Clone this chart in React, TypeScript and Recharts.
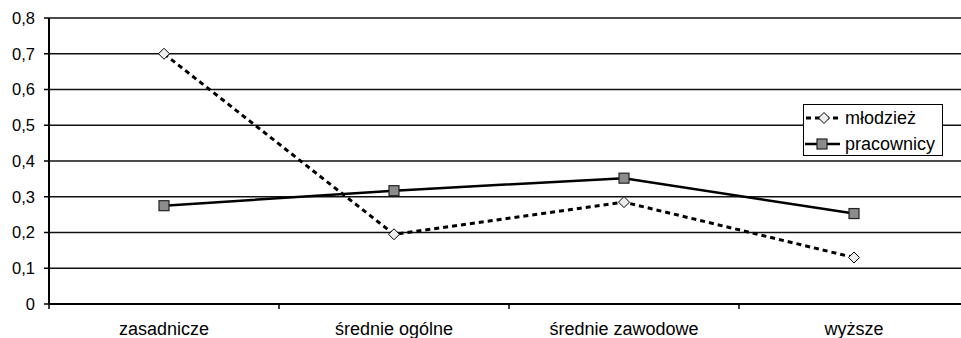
import { CartesianGrid, Legend, Line, LineChart, XAxis, YAxis } from 'recharts';

const categories = ['zasadnicze', 'średnie ogólne', 'średnie zawodowe', 'wyższe'];
const mlodziez = [0.7, 0.195, 0.285, 0.13];
const pracownicy = [0.275, 0.317, 0.352, 0.253];
const yTicks = [0, 0.1, 0.2, 0.3, 0.4, 0.5, 0.6, 0.7, 0.8];

const data = categories.map((name, i) => ({
  name,
  mlodziez: mlodziez[i],
  pracownicy: pracownicy[i],
}));

const FONT = '"Liberation Sans", Arial, sans-serif';

// "0,3" style labels, plain 0 at the origin
const formatTick = (v: number) => (v === 0 ? '0' : v.toFixed(1).replace('.', ','));

const Diamond = ({ cx, cy }: { cx?: number; cy?: number }) => {
  if (cx == null || cy == null) return null;
  const r = 5.5;
  return (
    <path
      d={`M${cx},${cy - r}L${cx + r},${cy}L${cx},${cy + r}L${cx - r},${cy}Z`}
      fill="#eeeeee"
      stroke="#000"
      strokeWidth={1}
    />
  );
};

const Square = ({ cx, cy }: { cx?: number; cy?: number }) => {
  if (cx == null || cy == null) return null;
  const s = 10;
  return (
    <rect x={cx - s / 2} y={cy - s / 2} width={s} height={s} fill="#8c8c8c" stroke="#222" strokeWidth={1.2} />
  );
};

// label centred in each band, tick marks on the band edges
const CategoryTick = (props: any) => {
  const { x, y, payload, index } = props;
  const half = payload?.offset ?? 0;
  return (
    <g>
      <text x={x} y={y + 31} textAnchor="middle" fontFamily={FONT} fontSize={18} fill="#000">
        {payload.value}
      </text>
      <line x1={x + half} x2={x + half} y1={y} y2={y + 5} stroke="#000" strokeWidth={1.5} />
      {index === 0 && <line x1={x - half} x2={x - half} y1={y} y2={y + 5} stroke="#000" strokeWidth={1.5} />}
    </g>
  );
};

const LegendBox = () => (
  <svg width={140} height={52} style={{ display: 'block' }}>
    <rect x={0.5} y={0.5} width={139} height={51} fill="#fff" stroke="#000" strokeWidth={1} />
    <line x1={3} x2={38} y1={14} y2={14} stroke="#000" strokeWidth={3} strokeDasharray="5 4" />
    <Diamond cx={21} cy={14} />
    <text x={42} y={20} fontFamily={FONT} fontSize={18} fill="#000">
      młodzież
    </text>
    <line x1={2} x2={37} y1={40} y2={40} stroke="#000" strokeWidth={2.5} />
    <Square cx={19} cy={40} />
    <text x={42} y={46} fontFamily={FONT} fontSize={18} fill="#000">
      pracownicy
    </text>
  </svg>
);

export default function App() {
  return (
    <div style={{ position: 'absolute', left: 0, top: 0, width: 961, height: 338, overflow: 'hidden', background: '#fff' }}>
      <LineChart width={975} height={338} data={data} margin={{ top: 18, right: 6, left: 0, bottom: 0 }}>
        <CartesianGrid vertical={false} stroke="#111" strokeWidth={1.3} />
        <XAxis
          dataKey="name"
          scale="band"
          height={34}
          tickLine={false}
          tickSize={0}
          tickMargin={0}
          interval={0}
          axisLine={{ stroke: '#000', strokeWidth: 2 }}
          tick={<CategoryTick />}
        />
        <YAxis
          width={49}
          domain={[0, 0.8]}
          ticks={yTicks}
          interval={0}
          tickFormatter={formatTick}
          tickSize={5}
          tickMargin={9}
          axisLine={{ stroke: '#000', strokeWidth: 2 }}
          tickLine={{ stroke: '#000', strokeWidth: 1.5 }}
          tick={{ fill: '#000', fontSize: 16.5, fontFamily: FONT }}
        />
        <Legend
          layout="horizontal"
          verticalAlign="middle"
          align="center"
          content={<LegendBox />}
          wrapperStyle={{ position: 'absolute', left: 803, top: 104, width: 140, height: 52 }}
        />
        <Line
          dataKey="pracownicy"
          stroke="#000"
          strokeWidth={2.5}
          dot={<Square />}
          activeDot={false}
          isAnimationActive={false}
        />
        <Line
          dataKey="mlodziez"
          stroke="#000"
          strokeWidth={3}
          strokeDasharray="5 4"
          dot={<Diamond />}
          activeDot={false}
          isAnimationActive={false}
        />
      </LineChart>
    </div>
  );
}
